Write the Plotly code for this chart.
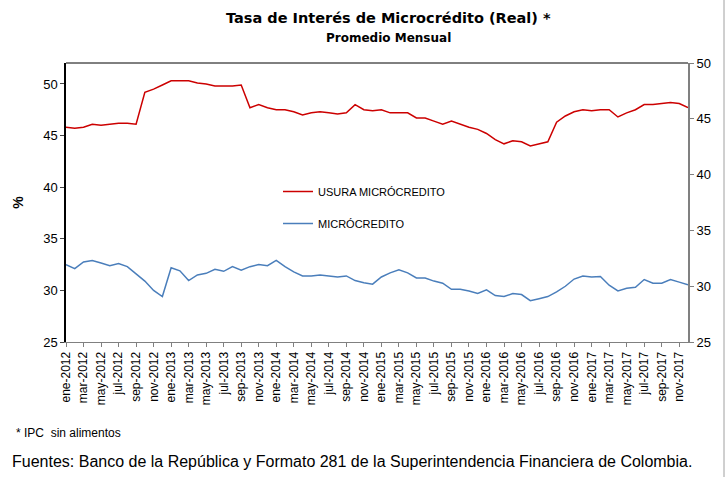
import plotly.graph_objects as go

meses = ["ene", "feb", "mar", "abr", "may", "jun", "jul", "ago", "sep", "oct", "nov", "dic"]
years = [2012, 2013, 2014, 2015, 2016, 2017]
categories = [f"{m}-{y}" for y in years for m in meses]

usura = [45.8, 45.7, 45.8, 46.1, 46.0, 46.1, 46.2, 46.2, 46.1, 49.2, 49.5, 49.9,
         50.3, 50.3, 50.3, 50.1, 50.0, 49.8, 49.8, 49.8, 49.9, 47.7, 48.0, 47.7,
         47.5, 47.5, 47.3, 47.0, 47.2, 47.3, 47.2, 47.1, 47.2, 48.0, 47.5, 47.4,
         47.5, 47.2, 47.2, 47.2, 46.7, 46.7, 46.4, 46.1, 46.4, 46.1, 45.8, 45.6,
         45.2, 44.6, 44.2, 44.5, 44.4, 44.0, 44.2, 44.4, 46.3, 46.9, 47.3, 47.5,
         47.4, 47.5, 47.5, 46.8, 47.2, 47.5, 48.0, 48.0, 48.1, 48.2, 48.1, 47.7]

micro = [32.5, 32.1, 32.75, 32.9, 32.65, 32.4, 32.6, 32.3, 31.6, 30.9, 30.0, 29.4,
         32.2, 31.9, 30.95, 31.5, 31.65, 32.05, 31.85, 32.3, 31.95, 32.3, 32.5, 32.4,
         32.9, 32.3, 31.8, 31.4, 31.4, 31.5, 31.4, 31.3, 31.4, 30.95, 30.75, 30.6,
         31.3, 31.7, 32.0, 31.7, 31.2, 31.2, 30.9, 30.7, 30.1, 30.1, 29.95, 29.7,
         30.05, 29.5, 29.4, 29.7, 29.6, 29.0, 29.2, 29.4, 29.85, 30.4, 31.1, 31.4,
         31.3, 31.35, 30.5, 29.95, 30.2, 30.3, 31.05, 30.7, 30.7, 31.05, 30.8, 30.55]

left_ticks = [25, 30, 35, 40, 45, 50]
right_ticks = [25, 30, 35, 40, 45, 50]

x = list(range(len(categories)))
tickvals = x[::2]
ticktext = categories[::2]

FONT = "Liberation Sans, Arial, sans-serif"
PL, PR, PT, PB = 66, 688, 63, 342
PW, PH = PR - PL, PB - PT

def px(xp):
    return (xp - PL) / PW

def py(yp):
    return (PB - yp) / PH

fig = go.Figure()
fig.add_trace(go.Scatter(x=x, y=usura, mode="lines", name="USURA MICRÓCREDITO",
                         legendgroup="a",
                         line=dict(color="#cc0000", width=1.5)))
fig.add_trace(go.Scatter(x=x, y=micro, mode="lines", name="MICRÓCREDITO",
                         legendgroup="b",
                         line=dict(color="#4a7ebb", width=1.5)))
# invisible trace to activate right axis
fig.add_trace(go.Scatter(x=[x[0]], y=[right_ticks[0]], yaxis="y2", mode="lines",
                         showlegend=False, hoverinfo="skip", line=dict(width=0)))

fig.update_layout(
    width=728, height=477,
    margin=dict(l=PL, r=728 - PR, t=PT, b=477 - PB, autoexpand=False),
    paper_bgcolor="white", plot_bgcolor="white",
    font=dict(family=FONT, size=13, color="#000000"),
    showlegend=True,
    legend=dict(x=px(278), y=py(177), xanchor="left", yanchor="top",
                bgcolor="rgba(0,0,0,0)", font=dict(size=11, family=FONT),
                traceorder="grouped", tracegroupgap=13, itemwidth=30),
    xaxis=dict(range=[0, len(categories) - 1], tickvals=tickvals, ticktext=ticktext,
               tickangle=-90, ticks="outside", ticklen=4, tickcolor="#808080",
               showline=True, linecolor="#808080", linewidth=1, showgrid=False,
               zeroline=False, automargin=False,
               tickfont=dict(size=12, family=FONT, color="#000000")),
    yaxis=dict(range=[25, 52.03], tickvals=left_ticks, ticks="outside", ticklen=4,
               showline=True, linecolor="#000000", linewidth=1.5, showgrid=False,
               zeroline=False, automargin=False, tickfont=dict(size=13, family=FONT),
               title=dict(text="<b>%</b>", font=dict(size=14, family=FONT), standoff=16)),
    yaxis2=dict(range=[25, 50], tickvals=right_ticks, overlaying="y", side="right",
                ticks="outside", ticklen=4, tickcolor="#808080", showline=True,
                linecolor="#808080", linewidth=2, showgrid=False, zeroline=False,
                automargin=False, tickfont=dict(size=13, family=FONT)),
    shapes=[
        dict(type="line", xref="paper", yref="paper", x0=0, x1=1, y0=1, y1=1,
             line=dict(color="#000000", width=1)),
        dict(type="line", xref="paper", yref="paper", x0=px(724), x1=px(724),
             y0=py(477), y1=py(0), line=dict(color="#a0a0a0", width=1)),
    ],
    annotations=[
        dict(text="<b>Tasa de Interés de Microcrédito (Real) *</b>", xref="paper", yref="paper",
             x=px(388), y=py(18), xanchor="center", yanchor="middle",
             showarrow=False, font=dict(size=14.5, family="DejaVu Sans, sans-serif")),
        dict(text="<b>Promedio Mensual</b>", xref="paper", yref="paper",
             x=px(388), y=py(38), xanchor="center", yanchor="middle",
             showarrow=False, font=dict(size=12, family="DejaVu Sans, sans-serif")),
        dict(text="* IPC  sin alimentos", xref="paper", yref="paper",
             x=px(14), y=py(433), xanchor="left", yanchor="middle",
             showarrow=False, font=dict(size=12, family=FONT)),
        dict(text="Fuentes: Banco de la República y Formato 281 de la Superintendencia Financiera de Colombia.",
             xref="paper", yref="paper",
             x=px(10), y=py(461), xanchor="left", yanchor="middle",
             showarrow=False, font=dict(size=16, family=FONT)),
    ],
)

fig.write_html("out.html", config={"displayModeBar": False},
               post_script="document.body.style.margin='0';document.body.style.overflow='hidden';")
